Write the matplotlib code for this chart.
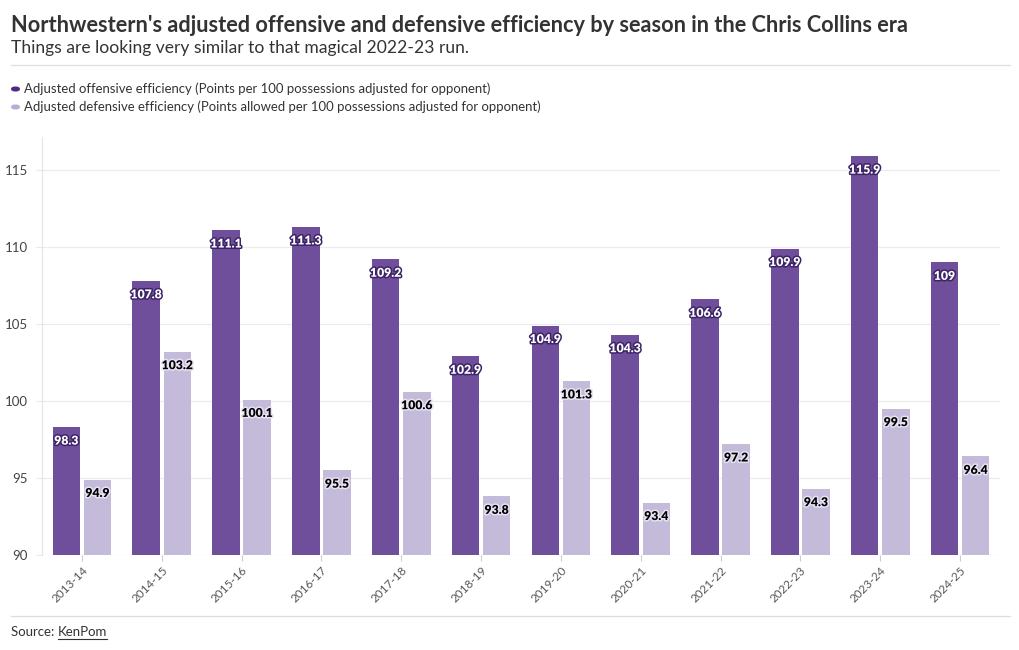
import matplotlib
matplotlib.use("Agg")
import matplotlib.pyplot as plt
import matplotlib.patheffects as pe
from matplotlib.patches import FancyBboxPatch
import numpy as np

seasons = ["2013-14", "2014-15", "2015-16", "2016-17", "2017-18", "2018-19",
           "2019-20", "2020-21", "2021-22", "2022-23", "2023-24", "2024-25"]
offense = [98.3, 107.8, 111.1, 111.3, 109.2, 102.9, 104.9, 104.3, 106.6, 109.9, 115.9, 109]
defense = [94.9, 103.2, 100.1, 95.5, 100.6, 93.8, 101.3, 93.4, 97.2, 94.3, 99.5, 96.4]
off_label = "Adjusted offensive efficiency (Points per 100 possessions adjusted for opponent)"
def_label = "Adjusted defensive efficiency (Points allowed per 100 possessions adjusted for opponent)"
title = "Northwestern's adjusted offensive and defensive efficiency by season in the Chris Collins era"
subtitle = "Things are looking very similar to that magical 2022-23 run."

FONT = "Lato"
plt.rcParams['font.family'] = [FONT, 'DejaVu Sans']

off_color = "#6f4f9b"
def_color = "#c4bbdb"
W, H = 1020, 650
fig = plt.figure(figsize=(W/100, H/100), dpi=100)

ax = fig.add_axes([42/W, 1-555/H, (1000-42)/W, (555-137)/H])
x = np.arange(len(seasons))
bw = 0.345
off_x = x - 0.195
def_x = x + 0.195
ax.bar(off_x, [v - 90 for v in offense], bottom=90, width=bw, color=off_color, zorder=2)
ax.bar(def_x, [v - 90 for v in defense], bottom=90, width=bw, color=def_color, zorder=2)

ax.set_xlim(-0.5, len(seasons) - 0.5)
ax.set_ylim(90, 117.15)
ax.set_yticks([90, 95, 100, 105, 110, 115])
ax.set_xticks(x)
ax.set_xticklabels(seasons, rotation=45, ha="right", rotation_mode="anchor",
                   fontsize=8.5, color="#555555")
ax.tick_params(axis="x", length=4, color="#cccccc", pad=3)
ax.tick_params(axis="y", length=4, color="#e8e8e8", labelsize=9.5, labelcolor="#444444", pad=6)
ax.grid(axis="y", color="#ececec", linewidth=0.9, zorder=0)
for s in ["top", "right", "bottom"]:
    ax.spines[s].set_visible(False)
ax.spines["left"].set_color("#e4e4e4")

def fmt(v):
    return f"{v:g}"

for xi, v in zip(off_x, offense):
    ax.annotate(fmt(v), (xi, v), xytext=(0, -10), textcoords="offset points",
                ha="center", va="center", fontsize=8.8, fontweight="heavy", color="white",
                path_effects=[pe.withStroke(linewidth=2.2, foreground="#3d2466")], zorder=4)
for xi, v in zip(def_x, defense):
    ax.annotate(fmt(v), (xi, v), xytext=(0, -10), textcoords="offset points",
                ha="center", va="center", fontsize=8.8, fontweight="heavy", color="black",
                path_effects=[pe.withStroke(linewidth=2.2, foreground="#e8e2f2")], zorder=4)

# Title & subtitle
fig.text(11/W, 1-25/H, title, fontsize=15.7, fontweight="bold", color="#333333", va="center", ha="left")
fig.text(11/W, 1-48/H, subtitle, fontsize=12.6, color="#333333", va="center", ha="left")
fig.add_artist(plt.Line2D([11/W, 1010/W], [1-65/H, 1-65/H], color="#dddddd", linewidth=0.9))

# Legend
for yy, col, lab in [(89, "#4e2a84", off_label), (107, "#b9acd8", def_label)]:
    p = FancyBboxPatch((11/W, 1-(yy+2.5)/H), 9/W, 5/H,
                       boxstyle="round,pad=0,rounding_size=0.004",
                       transform=fig.transFigure, facecolor=col, edgecolor="none")
    fig.add_artist(p)
    fig.text(24/W, 1-yy/H, lab, fontsize=9.45, color="#333333", va="center", ha="left")

# Footer
fig.add_artist(plt.Line2D([11/W, 1010/W], [1-616/H, 1-616/H], color="#dddddd", linewidth=0.9))
t1 = fig.text(11/W, 1-632/H, "Source: ", fontsize=9.5, color="#333333", va="center", ha="left")
fig.canvas.draw()
bb = t1.get_window_extent()
t2 = fig.text(bb.x1/W, 1-632/H, "KenPom", fontsize=9.5, color="#333333", va="center", ha="left")
fig.canvas.draw()
bb2 = t2.get_window_extent()
fig.add_artist(plt.Line2D([bb2.x0/W, bb2.x1/W], [1-639/H, 1-639/H], color="#333333", linewidth=0.8))

fig.savefig("out.png", dpi=100)
